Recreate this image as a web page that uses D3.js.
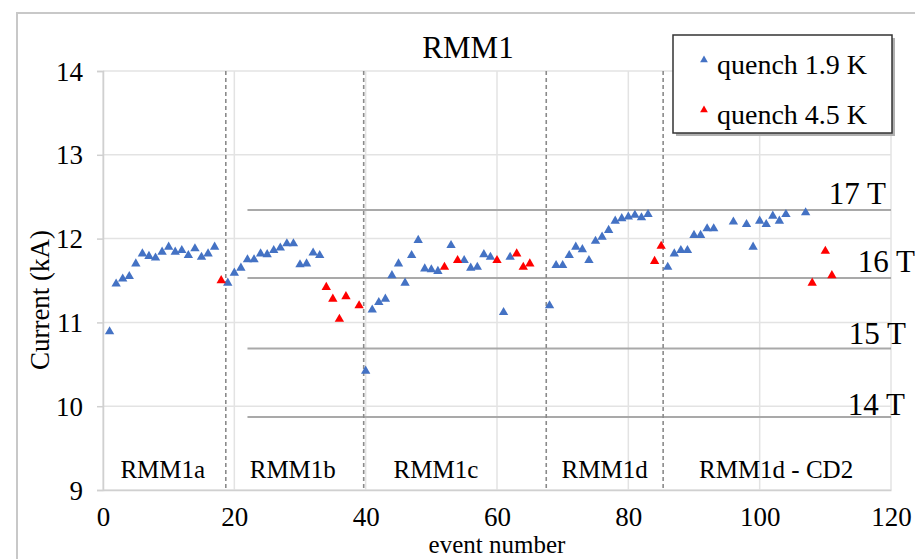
<!DOCTYPE html>
<html>
<head>
<meta charset="utf-8">
<script src="https://cdn.jsdelivr.net/npm/d3@7"></script>
<style>
  html, body { margin: 0; padding: 0; background: #fff; }
  svg { display: block; }
  text { font-family: "Liberation Serif", "Times New Roman", serif; fill: #000; }
</style>
</head>
<body>
<svg id="chart" width="915" height="559"></svg>
<script>
// Quench current per training event, 1.9 K
const events19 = [1,2,3,4,5,6,7,8,9,10,11,12,13,14,15,16,17,
  19,20,21,22,23,24,25,26,27,28,29,30,31,32,33,
  40,41,42,43,44,45,46,47,48,49,50,51,53,55,56,57,58,59,61,62,
  68,69,70,71,72,73,74,75,76,77,78,79,80,81,82,83,
  86,87,88,89,90,91,92,93,96,98,99,100,101,102,103,104,107];
const current19 = [10.89,11.46,11.52,11.55,11.70,11.82,11.79,11.77,11.84,11.90,11.84,11.86,11.80,11.88,11.78,11.82,11.90,
  11.47,11.59,11.65,11.75,11.75,11.82,11.81,11.86,11.89,11.94,11.94,11.69,11.70,11.83,11.80,
  10.42,11.15,11.24,11.28,11.56,11.70,11.47,11.80,11.98,11.64,11.63,11.61,11.92,11.74,11.65,11.66,11.81,11.78,11.12,11.78,
  11.20,11.68,11.68,11.80,11.90,11.87,11.74,11.97,12.02,12.10,12.21,12.24,12.26,12.28,12.25,12.29,
  11.66,11.82,11.86,11.86,12.04,12.04,12.12,12.12,12.20,12.17,11.90,12.21,12.17,12.27,12.21,12.29,12.31];

// Quench current per training event, 4.5 K
const events45 = [18,34,35,36,37,39,52,54,60,63,64,65,84,85,108,110,111];
const current45 = [11.50,11.42,11.28,11.04,11.31,11.20,11.66,11.74,11.74,11.82,11.66,11.70,11.73,11.91,11.47,11.85,11.56];

// Magnet configuration boundaries (event number) and their labels
const boundaries = [18.7, 39.7, 67.5, 85.3];
const phaseNames = ["RMM1a", "RMM1b", "RMM1c", "RMM1d", "RMM1d - CD2"];
const phaseCenters = [9.1, 28.9, 50.7, 76.4, 102.5];

// Current corresponding to bore field levels
const fieldNames = ["17 T", "16 T", "15 T", "14 T"];
const fieldCurrents = [12.34, 11.53, 10.69, 9.87];
const fieldStart = 22;

const xTicks = [0, 20, 40, 60, 80, 100, 120];
const yTicks = [9, 10, 11, 12, 13, 14];
const seriesNames = ["quench 1.9 K", "quench 4.5 K"];
const seriesColors = ["#4472C4", "#FF0000"];

const serif = '"Liberation Serif", "Times New Roman", serif';
const svg = d3.select("#chart");
const plotL = 103, plotR = 891, plotT = 71, plotB = 490;

const x = d3.scaleLinear().domain([0, 120]).range([plotL, plotR]);
const y = d3.scaleLinear().domain([9, 14]).range([plotB, plotT]);

// outer chart frame
svg.append("rect")
  .attr("x", 17).attr("y", 13).attr("width", 920).attr("height", 560)
  .attr("fill", "none").attr("stroke", "#c8c8c8").attr("stroke-width", 2);

// gridlines
svg.append("g").selectAll("line").data(yTicks).join("line")
  .attr("x1", plotL).attr("x2", plotR)
  .attr("y1", d => y(d)).attr("y2", d => y(d))
  .attr("stroke", "#e3e3e3").attr("stroke-width", 1.5);
svg.append("g").selectAll("line").data(xTicks).join("line")
  .attr("x1", d => x(d)).attr("x2", d => x(d))
  .attr("y1", plotT).attr("y2", plotB)
  .attr("stroke", "#e3e3e3").attr("stroke-width", 1.5);

// axes
const yAxis = svg.append("g").attr("transform", `translate(${plotL},0)`)
  .call(d3.axisLeft(y).tickValues(yTicks).tickSize(6).tickPadding(14).tickFormat(d3.format("d")));
yAxis.attr("font-family", null);
yAxis.select(".domain").attr("stroke", "#d0d0d0").attr("stroke-width", 1.5);
yAxis.selectAll(".tick line").attr("stroke", "#d0d0d0").attr("stroke-width", 1.5);
yAxis.selectAll(".tick text").style("font-family", serif).style("font-size", "27px").attr("dy", "0.34em");

const xAxis = svg.append("g").attr("transform", `translate(0,${plotB})`)
  .call(d3.axisBottom(x).tickValues(xTicks).tickSize(0).tickPadding(17).tickFormat(d3.format("d")));
xAxis.attr("font-family", null);
xAxis.select(".domain").attr("stroke", "#d0d0d0").attr("stroke-width", 1.5);
xAxis.selectAll(".tick text").style("font-family", serif).style("font-size", "27px");

// field reference lines
svg.append("g").selectAll("line").data(fieldCurrents).join("line")
  .attr("x1", x(fieldStart)).attr("x2", x(120))
  .attr("y1", d => y(d)).attr("y2", d => y(d))
  .attr("stroke", "#a9a9a9").attr("stroke-width", 2);
const fieldLabelX = [886, 915, 906, 905];
svg.append("g").selectAll("text").data(fieldNames).join("text")
  .attr("x", (d, i) => fieldLabelX[i])
  .attr("y", (d, i) => y(fieldCurrents[i]) - [6, 6, 4, 2][i])
  .attr("text-anchor", "end").style("font-size", "31px")
  .text(d => d);

// configuration boundaries
svg.append("g").selectAll("line").data(boundaries).join("line")
  .attr("x1", d => x(d)).attr("x2", d => x(d))
  .attr("y1", plotT).attr("y2", plotB)
  .attr("stroke", "#8a8a8a").attr("stroke-width", 1.6).attr("stroke-dasharray", "4,3");
svg.append("g").selectAll("text").data(phaseNames).join("text")
  .attr("x", (d, i) => x(phaseCenters[i])).attr("y", 478)
  .attr("text-anchor", "middle").style("font-size", "25px")
  .text(d => d);

// markers
const tri = d3.symbol().type(d3.symbolTriangle).size(38);
const pts19 = events19.map((e, i) => ({ e, c: current19[i] }));
const pts45 = events45.map((e, i) => ({ e, c: current45[i] }));
svg.append("g").selectAll("path").data(pts19).join("path")
  .attr("d", tri).attr("transform", d => `translate(${x(d.e)},${y(d.c)})`)
  .attr("fill", seriesColors[0]);
svg.append("g").selectAll("path").data(pts45).join("path")
  .attr("d", tri).attr("transform", d => `translate(${x(d.e)},${y(d.c)})`)
  .attr("fill", seriesColors[1]);

// title and axis titles
svg.append("text").attr("x", 468).attr("y", 58).attr("text-anchor", "middle")
  .style("font-size", "31px").text("RMM1");
svg.append("text").attr("x", 497).attr("y", 553).attr("text-anchor", "middle")
  .style("font-size", "25px").text("event number");
svg.append("text").attr("transform", "translate(49,300) rotate(-90)")
  .attr("text-anchor", "middle").style("font-size", "27px").text("Current (kA)");

// legend
const lg = svg.append("g");
lg.append("rect").attr("x", 676).attr("y", 38).attr("width", 219).attr("height", 98)
  .attr("fill", "#b0b0b0");
lg.append("rect").attr("x", 673).attr("y", 35).attr("width", 219).attr("height", 98)
  .attr("fill", "#fff").attr("stroke", "#333").attr("stroke-width", 1.5);
const lgSym = d3.symbol().type(d3.symbolTriangle).size(26);
seriesNames.forEach((name, i) => {
  lg.append("path").attr("d", lgSym)
    .attr("transform", `translate(704,${60 + i * 50})`).attr("fill", seriesColors[i]);
  lg.append("text").attr("x", 717).attr("y", 74 + i * 50)
    .style("font-size", "28px").text(name);
});
</script>
</body>
</html>
